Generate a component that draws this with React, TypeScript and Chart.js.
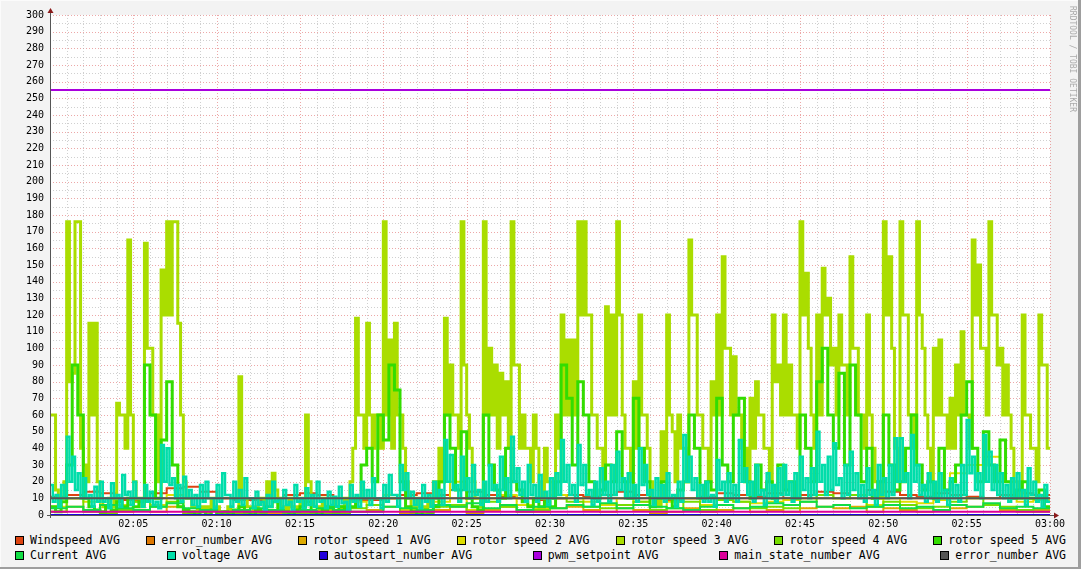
import React, { useEffect, useRef } from 'react';
import { Chart, registerables } from 'chart.js';

Chart.register(...registerables);

// ---- Legend / series names ----
const seriesNames = [
  'Windspeed AVG',
  'error_number AVG',
  'rotor speed 1 AVG',
  'rotor speed 2 AVG',
  'rotor speed 3 AVG',
  'rotor speed 4 AVG',
  'rotor speed 5 AVG',
  'Current AVG',
  'voltage AVG',
  'autostart_number AVG',
  'pwm_setpoint AVG',
  'main_state_number AVG',
  'error_number AVG',
];

// x tick labels (02:05 .. 03:00, every 5 minutes)
const timeLabels = ['02:05', '02:10', '02:15', '02:20', '02:25', '02:30', '02:35', '02:40', '02:45', '02:50', '02:55', '03:00'];

// ---- Series values (evenly spaced between 02:00 and 03:00) ----
const windspeed = [11, 12, 14, 13, 9, 9, 13, 16, 17, 14, 10, 9, 9, 10, 12, 13, 12, 10, 9, 9, 10, 12, 13, 12, 15, 14, 12, 11, 10, 9,
  10, 12, 11, 12, 14, 12, 10, 9, 10, 11, 13, 12, 11, 13, 10, 12, 14, 13, 12, 15, 14, 12, 11, 13, 12, 11, 10, 12, 13, 12];

const errorNumberA = [10, 10, 10, 10, 10, 10, 10, 10, 10, 10, 10, 10];

const rotorSpeed1 = [2, 5, 3, 0, 2, 3, 2, 5, 0, 0, 0, 0, 0, 1, 0, 0, 0, 0, 2, 3, 5, 1, 0, 3, 5, 1, 3, 5, 2, 2,
  4, 5, 3, 2, 4, 3, 1, 2, 4, 2, 3, 4, 2, 3, 2, 4, 5, 4, 5, 2, 4, 3, 2, 3, 4, 5, 6, 3, 2, 3];

const rotorSpeed2 = [5, 10, 8, 2, 6, 8, 6, 12, 2, 0, 1, 2, 1, 3, 1, 2, 1, 2, 8, 6, 12, 3, 2, 8, 20, 3, 10, 12, 6, 4,
  12, 10, 8, 6, 10, 8, 3, 8, 10, 6, 10, 8, 7, 8, 9, 10, 12, 10, 12, 6, 10, 8, 7, 9, 25, 30, 35, 20, 8, 9];

const rotorSpeed3 = [
  60, 60, 15, 5, 10, 20, 176, 80, 85, 176, 176, 40,
  30, 20, 115, 60, 115, 20, 10, 5, 5, 10, 10, 5,
  67, 60, 60, 40, 165, 60, 20, 10, 10, 5, 163, 100,
  100, 60, 60, 20, 147, 120, 176, 120, 176, 176, 115, 60,
  20, 10, 10, 5, 5, 2, 5, 2, 5, 0, 10, 5,
  5, 0, 0, 2, 5, 0, 0, 2, 83, 10, 10, 5,
  5, 2, 5, 10, 10, 5, 20, 10, 25, 15, 10, 5,
  5, 2, 10, 5, 5, 2, 10, 5, 60, 20, 10, 5,
  5, 2, 10, 5, 5, 2, 10, 5, 5, 2, 10, 5,
  20, 40, 118, 60, 60, 40, 115, 60, 40, 60, 60, 40,
  176, 60, 105, 40, 115, 60, 60, 40, 20, 10, 5, 2,
  10, 5, 5, 2, 10, 5, 20, 10, 40, 20, 118, 60,
  90, 60, 60, 40, 176, 90, 60, 40, 20, 10, 10, 5,
  176, 60, 100, 60, 90, 40, 85, 60, 80, 40, 176, 90,
  90, 40, 60, 40, 40, 20, 60, 40, 20, 10, 40, 20,
  20, 10, 60, 40, 120, 60, 105, 60, 105, 60, 176, 120,
  176, 120, 120, 60, 60, 40, 40, 20, 125, 60, 120, 60,
  176, 120, 60, 40, 40, 20, 80, 40, 120, 60, 60, 40,
  20, 10, 10, 5, 50, 20, 120, 60, 50, 20, 60, 40,
  40, 20, 165, 120, 120, 60, 60, 40, 40, 20, 80, 60,
  120, 60, 155, 100, 100, 60, 95, 60, 60, 40, 40, 20,
  70, 40, 80, 60, 60, 40, 40, 20, 120, 80, 90, 60,
  120, 60, 90, 60, 60, 40, 176, 120, 145, 100, 60, 40,
  120, 60, 148, 120, 130, 90, 100, 60, 120, 90, 90, 60,
  155, 100, 100, 60, 60, 40, 120, 60, 40, 20, 20, 10,
  176, 120, 155, 100, 40, 20, 176, 120, 120, 60, 60, 40,
  176, 120, 100, 60, 40, 20, 100, 60, 105, 60, 60, 40,
  70, 40, 90, 60, 110, 60, 60, 40, 165, 120, 150, 100,
  100, 60, 176, 120, 120, 90, 100, 60, 90, 60, 40, 20,
  20, 10, 120, 60, 60, 40, 40, 20, 120, 90, 90, 40,
];

const rotorSpeed4 = [2, 10, 2, 1, 3, 8, 5, 8, 1, 0, 1, 1, 1, 2, 1, 1, 1, 1, 4, 6, 10, 2, 1, 5, 6, 2, 8, 5, 2, 3,
  10, 8, 5, 4, 6, 8, 3, 4, 8, 3, 9, 8, 4, 5, 4, 8, 12, 10, 12, 5, 8, 6, 4, 5, 8, 10, 6, 5, 3, 2];

const rotorSpeed5 = [
  5, 2, 8, 30, 90, 60, 10, 5, 3, 2, 5, 3,
  8, 5, 10, 5, 8, 90, 60, 10, 45, 80, 30, 5,
  3, 2, 0, 2, 0, 3, 0, 2, 0, 3, 5, 2,
  0, 3, 2, 5, 8, 3, 2, 0, 3, 5, 8, 2,
  0, 3, 5, 2, 5, 3, 5, 10, 30, 40, 20, 60,
  45, 90, 75, 20, 5, 2, 0, 3, 2, 5, 20, 60,
  40, 15, 50, 10, 5, 3, 60, 30, 15, 10, 40, 20,
  15, 8, 5, 10, 5, 8, 5, 20, 90, 70, 30, 80,
  60, 20, 10, 15, 30, 20, 50, 20, 10, 70, 40, 20,
  5, 10, 20, 10, 5, 15, 20, 60, 40, 10, 20, 15,
  70, 30, 20, 60, 70, 20, 10, 30, 15, 20, 10, 30,
  15, 20, 10, 60, 40, 20, 80, 100, 60, 40, 85, 30,
  90, 60, 20, 40, 10, 20, 60, 30, 15, 20, 40, 60,
  30, 15, 20, 10, 40, 15, 20, 30, 60, 80, 40, 20,
  50, 30, 20, 45, 20, 10, 15, 20, 10, 10, 15, 5,
];

const current = [4, 5, 3, 6, 4, 3, 5, 7, 4, 3, 2, 3, 4, 3, 2, 3, 4, 3, 2, 2, 5, 4, 3, 6, 5, 7, 4, 6, 3, 5,
  4, 6, 5, 7, 4, 6, 5, 4, 3, 5, 6, 4, 5, 7, 6, 8, 5, 6, 4, 5, 6, 4, 5, 3, 6, 5, 7, 4, 5, 4];

const voltage = [
  18, 8, 12, 5, 18, 10, 47, 20, 35, 15, 25, 10,
  22, 10, 12, 5, 17, 8, 20, 8, 10, 4, 19, 10,
  12, 5, 24, 12, 14, 6, 20, 10, 10, 5, 18, 8,
  14, 6, 8, 4, 42, 20, 40, 18, 22, 10, 18, 8,
  23, 10, 15, 6, 12, 5, 18, 8, 20, 10, 10, 4,
  18, 8, 25, 12, 12, 5, 20, 8, 15, 6, 22, 10,
  10, 4, 14, 6, 8, 3, 12, 5, 20, 8, 9, 4,
  15, 6, 8, 3, 18, 8, 10, 4, 16, 6, 12, 5,
  20, 8, 9, 4, 14, 6, 11, 5, 17, 7, 8, 3,
  18, 8, 12, 5, 20, 10, 15, 6, 22, 10, 10, 4,
  18, 8, 24, 12, 12, 5, 30, 15, 25, 10, 14, 6,
  10, 4, 18, 8, 12, 5, 20, 10, 15, 6, 45, 20,
  36, 15, 18, 8, 35, 15, 22, 10, 30, 12, 15, 6,
  20, 8, 30, 15, 18, 8, 35, 15, 22, 10, 47, 20,
  28, 12, 20, 8, 30, 12, 18, 8, 24, 10, 14, 6,
  22, 10, 25, 12, 45, 20, 30, 12, 18, 8, 42, 18,
  30, 12, 15, 6, 20, 8, 28, 12, 20, 8, 30, 12,
  38, 15, 22, 10, 25, 10, 18, 8, 40, 18, 30, 12,
  15, 6, 22, 10, 18, 8, 25, 10, 12, 5, 20, 8,
  48, 20, 35, 15, 22, 10, 18, 8, 20, 8, 12, 5,
  33, 15, 20, 8, 25, 10, 18, 8, 45, 20, 28, 12,
  20, 8, 30, 12, 15, 6, 25, 10, 18, 8, 28, 12,
  30, 12, 20, 8, 25, 10, 35, 15, 22, 10, 28, 12,
  50, 20, 30, 12, 35, 15, 43, 18, 22, 10, 30, 12,
  38, 15, 25, 10, 18, 8, 28, 12, 15, 6, 30, 12,
  22, 10, 30, 12, 46, 20, 46, 20, 25, 10, 48, 20,
  30, 12, 18, 8, 25, 10, 20, 8, 25, 10, 15, 6,
  22, 10, 18, 8, 30, 12, 57, 25, 35, 15, 25, 10,
  48, 20, 38, 15, 30, 12, 25, 10, 18, 8, 22, 10,
  25, 10, 15, 6, 28, 12, 20, 8, 12, 5, 18, 8,
];

const autostartNumber = [0, 0, 0, 0, 0, 0, 0, 0, 0, 0, 0, 0];
const pwmSetpoint = [255, 255, 255, 255, 255, 255, 255, 255, 255, 255, 255, 255];
const mainStateNumber = [2, 2, 2, 2, 2, 2, 2, 2, 2, 2, 2, 2];
const errorNumberB = [10, 10, 10, 10, 10, 10, 10, 10, 10, 10, 10, 10];

const seriesValues = [
  windspeed, errorNumberA, rotorSpeed1, rotorSpeed2, rotorSpeed3, rotorSpeed4, rotorSpeed5,
  current, voltage, autostartNumber, pwmSetpoint, mainStateNumber, errorNumberB,
];

const seriesColors = [
  '#dd4411', '#dd7700', '#ddaa00', '#dddd00', '#aadd00', '#77dd00', '#33dd00',
  '#11dd44', '#00ddaa', '#2200dd', '#aa00dd', '#dd0099', '#555555',
];

const seriesWidths = [2, 2, 2, 2, 3, 2, 3, 2, 2.5, 2, 2, 2, 2];

const MONO = '"DejaVu Sans Mono", monospace';

function toPoints(values: number[]) {
  const n = values.length;
  const pts = values.map((v, i) => ({ x: (i * 60) / n, y: v }));
  pts.push({ x: 60, y: values[n - 1] });
  return pts;
}

const rrdPlugin = {
  id: 'rrdDecor',
  beforeDraw(chart: any) {
    const { ctx, chartArea: a } = chart;
    ctx.save();
    ctx.fillStyle = '#ffffff';
    ctx.fillRect(a.left, a.top, a.right - a.left, a.bottom - a.top);
    ctx.restore();
  },
  beforeDatasetsDraw(chart: any) {
    const { ctx, chartArea: a, scales } = chart;
    const xs = scales.x;
    const ys = scales.y;
    ctx.save();
    ctx.lineWidth = 1;
    ctx.setLineDash([1, 2]);
    for (let v = 5; v <= 300; v += 5) {
      const y = Math.round(ys.getPixelForValue(v)) + 0.5;
      ctx.strokeStyle = v % 10 === 0 ? 'rgba(225,110,110,0.6)' : 'rgba(170,170,170,0.55)';
      ctx.beginPath();
      ctx.moveTo(a.left, y);
      ctx.lineTo(a.right + 2, y);
      ctx.stroke();
    }
    for (let m = 1; m <= 60; m++) {
      const x = Math.round(xs.getPixelForValue(m)) + 0.5;
      ctx.strokeStyle = m % 5 === 0 ? 'rgba(225,110,110,0.6)' : 'rgba(170,170,170,0.55)';
      ctx.beginPath();
      ctx.moveTo(x, a.top);
      ctx.lineTo(x, a.bottom);
      ctx.stroke();
    }
    ctx.restore();
  },
  afterDatasetsDraw(chart: any) {
    const { ctx, chartArea: a } = chart;
    ctx.save();
    ctx.setLineDash([]);
    ctx.strokeStyle = '#555555';
    ctx.lineWidth = 1;
    ctx.beginPath();
    ctx.moveTo(a.left + 0.5, a.bottom + 3);
    ctx.lineTo(a.left + 0.5, a.top - 3);
    ctx.stroke();
    ctx.beginPath();
    ctx.moveTo(a.left - 3, a.bottom + 0.5);
    ctx.lineTo(a.right + 4, a.bottom + 0.5);
    ctx.stroke();
    ctx.fillStyle = '#8b1a1a';
    ctx.beginPath();
    ctx.moveTo(a.left + 0.5, a.top - 7);
    ctx.lineTo(a.left - 2.5, a.top - 2);
    ctx.lineTo(a.left + 3.5, a.top - 2);
    ctx.closePath();
    ctx.fill();
    ctx.beginPath();
    ctx.moveTo(a.right + 9, a.bottom + 0.5);
    ctx.lineTo(a.right + 4, a.bottom - 2.5);
    ctx.lineTo(a.right + 4, a.bottom + 3.5);
    ctx.closePath();
    ctx.fill();
    ctx.restore();
  },
};

export default function App() {
  const canvasRef = useRef<HTMLCanvasElement | null>(null);

  useEffect(() => {
    const canvas = canvasRef.current;
    if (!canvas) return;
    const n = seriesValues.length;
    const datasets = seriesValues.map((vals, i) => ({
      label: seriesNames[i],
      data: toPoints(vals),
      borderColor: seriesColors[i],
      backgroundColor: seriesColors[i],
      borderWidth: seriesWidths[i],
      pointRadius: 0,
      pointHoverRadius: 0,
      stepped: 'before' as const,
      tension: 0,
      fill: false,
      order: n - i,
    }));

    const chart = new Chart(canvas, {
      type: 'line',
      data: { datasets },
      options: {
        animation: false,
        responsive: false,
        maintainAspectRatio: false,
        devicePixelRatio: 1,
        layout: { padding: { left: 0, right: 31, top: 15, bottom: 0 } },
        plugins: {
          legend: { display: false },
          tooltip: { enabled: false },
        },
        events: [],
        scales: {
          x: {
            type: 'linear',
            min: 0,
            max: 60,
            grid: { display: false, drawTicks: false },
            border: { display: false },
            afterFit: (scale: any) => { scale.height = 15; },
            ticks: {
              stepSize: 5,
              autoSkip: false,
              maxRotation: 0,
              minRotation: 0,
              padding: 3,
              color: '#000000',
              font: { family: MONO, size: 10 },
              callback: (v: any) => {
                const val = Number(v);
                if (val === 0 || val % 5 !== 0) return '';
                return timeLabels[val / 5 - 1];
              },
            },
          },
          y: {
            type: 'linear',
            min: 0,
            max: 300,
            grid: { display: false, drawTicks: false },
            border: { display: false },
            afterFit: (scale: any) => { scale.width = 50; },
            ticks: {
              stepSize: 10,
              autoSkip: false,
              maxTicksLimit: 1000,
              padding: 6,
              color: '#000000',
              font: { family: MONO, size: 10 },
              callback: (v: any) => String(v),
            },
          },
        },
      },
      plugins: [rrdPlugin],
    } as any);

    return () => chart.destroy();
  }, []);

  const rows = [seriesNames.slice(0, 7), seriesNames.slice(7)];

  return (
    <div
      style={{
        position: 'fixed',
        left: 0,
        top: 0,
        width: 1081,
        height: 569,
        background: '#f3f3f3',
        boxShadow: 'inset -3px -2px 0 #9e9e9e, inset 1px 1px 0 #fbfbfb',
        overflow: 'hidden',
      }}
    >
      <canvas
        ref={canvasRef}
        width={1081}
        height={530}
        style={{ position: 'absolute', left: 0, top: 0, width: 1081, height: 530 }}
      />
      <div
        style={{
          position: 'absolute',
          left: 1067,
          top: 6,
          writingMode: 'vertical-rl',
          fontFamily: MONO,
          fontSize: 8,
          lineHeight: '10px',
          color: '#aaaaaa',
          whiteSpace: 'nowrap',
        }}
      >
        RRDTOOL / TOBI OETIKER
      </div>
      {rows.map((row, r) => (
        <div
          key={r}
          style={{
            position: 'absolute',
            left: 15,
            width: 1051,
            top: r === 0 ? 533 : 548,
            height: 14,
            display: 'flex',
            justifyContent: 'space-between',
            alignItems: 'center',
            fontFamily: MONO,
            fontSize: 11.5,
            color: '#000000',
          }}
        >
          {row.map((name, k) => {
            const idx = r === 0 ? k : 7 + k;
            return (
              <div key={name + idx} style={{ display: 'flex', alignItems: 'center', whiteSpace: 'pre' }}>
                <span
                  style={{
                    display: 'inline-block',
                    width: 7,
                    height: 7,
                    border: '1px solid #000000',
                    background: seriesColors[idx],
                    marginRight: 6,
                  }}
                />
                <span style={{ lineHeight: '14px' }}>{name}</span>
              </div>
            );
          })}
        </div>
      ))}
    </div>
  );
}
